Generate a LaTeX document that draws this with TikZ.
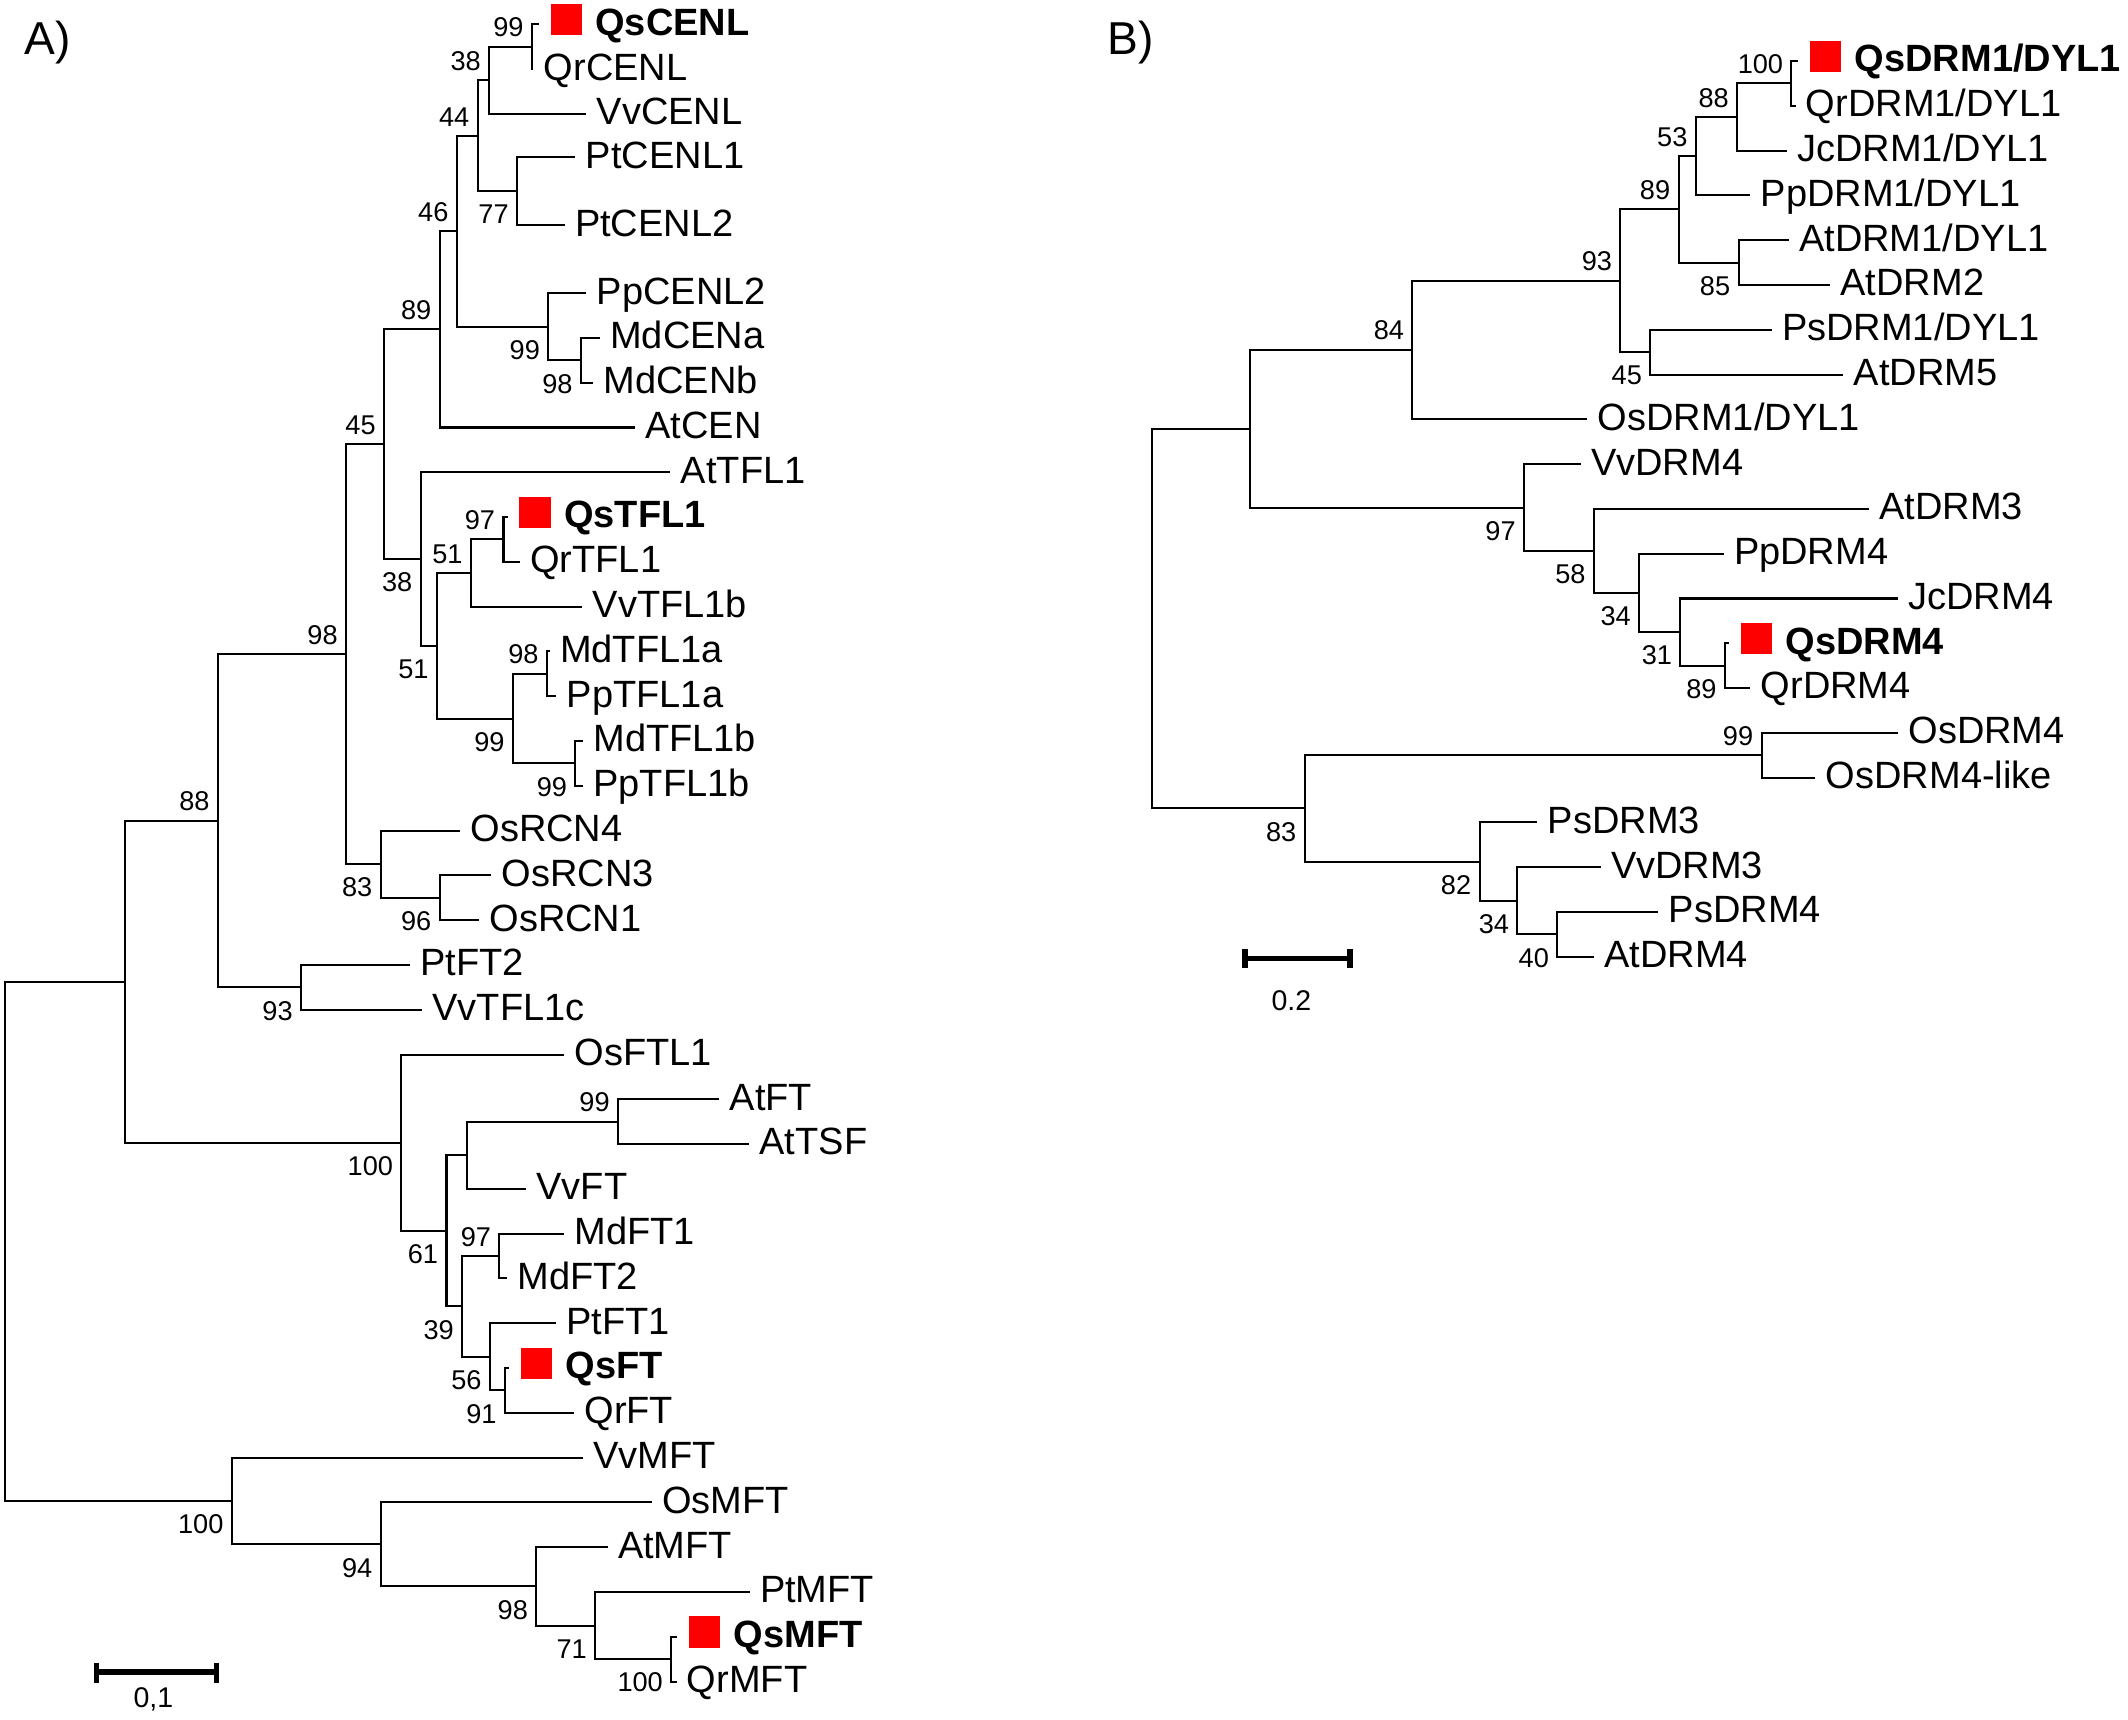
\documentclass[tikz,border=0pt]{standalone}
\usepackage{fontspec}
\setmainfont{Liberation Sans}
\usepackage{xcolor}
\usepackage{tikz}

\newcommand{\qsmark}{\hspace*{1pt}\textcolor{red}{\rule{23pt}{23pt}}\hspace{10pt}}

\tikzset{
  leaf/.style={anchor=west, inner xsep=7.5pt, inner ysep=0pt, text height=20pt, text depth=4pt,
    font=\fontsize{28}{30}\selectfont},
  qsleaf/.style={leaf, font=\fontsize{28}{30}\selectfont\bfseries},
  bsnum/.style={inner sep=0pt, font=\fontsize{20}{22}\selectfont},
  bsup/.style={bsnum, anchor=south east, xshift=-6pt, yshift=7pt},
  bsdown/.style={bsnum, anchor=north east, xshift=-6pt, yshift=-10pt},
  tree/.style={every edge/.style={draw, line width=1.5pt, to path={|- (\tikztotarget)}}},
  scalebar/.style={line width=4pt},
  panel/.style={anchor=base west, inner sep=0pt, font=\fontsize{34}{36}\selectfont}
}

\begin{document}
\begin{tikzpicture}[x=1pt,y=-1pt]
  \useasboundingbox (0,0) rectangle (1568,1267);

  % ---------- A) ----------
  \node[panel] (pa) at (18,40) {A)};

  \node[qsleaf] (qscenl) at (397,18) {\qsmark QsCENL};
  \node[leaf] (qrcenl) at (393,51) {QrCENL};
  \node[leaf] (vvcenl) at (432,84) {VvCENL};
  \node[leaf] (ptcenl1) at (424,116) {PtCENL1};
  \node[leaf] (ptcenl2) at (416,166) {PtCENL2};
  \node[leaf] (ppcenl2) at (432,216) {PpCENL2};
  \node[leaf] (mdcena) at (442,249) {MdCENa};
  \node[leaf] (mdcenb) at (437,282) {MdCENb};
  \node[leaf] (atcen) at (468,315) {AtCEN};
  \node[leaf] (attfl1) at (494,348) {AtTFL1};
  \node[qsleaf] (qstfl1) at (374,381) {\qsmark QsTFL1};
  \node[leaf] (qrtfl1) at (383,414) {QrTFL1};
  \node[leaf] (vvtfl1b) at (429,447) {VvTFL1b};
  \node[leaf] (mdtfl1a) at (405,480) {MdTFL1a};
  \node[leaf] (pptfl1a) at (410,513) {PpTFL1a};
  \node[leaf] (mdtfl1b) at (429.5,546) {MdTFL1b};
  \node[leaf] (pptfl1b) at (429.5,579) {PpTFL1b};
  \node[leaf] (osrcn4) at (339,612) {OsRCN4};
  \node[leaf] (osrcn3) at (362,645) {OsRCN3};
  \node[leaf] (osrcn1) at (353,678) {OsRCN1};
  \node[leaf] (ptft2) at (302,711) {PtFT2};
  \node[leaf] (vvtfl1c) at (311,744) {VvTFL1c};
  \node[leaf] (osftl1) at (415.6,777) {OsFTL1};
  \node[leaf] (atft) at (530,810) {AtFT};
  \node[leaf] (attsf) at (552,843) {AtTSF};
  \node[leaf] (vvft) at (387.6,876) {VvFT};
  \node[leaf] (mdft1) at (415.6,909) {MdFT1};
  \node[leaf] (mdft2) at (373.5,942) {MdFT2};
  \node[leaf] (ptft1) at (409.5,975) {PtFT1};
  \node[qsleaf] (qsft) at (375,1008) {\qsmark QsFT};
  \node[leaf] (qrft) at (423,1041) {QrFT};
  \node[leaf] (vvmft) at (429.4,1074) {VvMFT};
  \node[leaf] (osmft) at (480.4,1107) {OsMFT};
  \node[leaf] (atmft) at (447.7,1140) {AtMFT};
  \node[leaf] (ptmft) at (552.3,1173) {PtMFT};
  \node[qsleaf] (qsmft) at (499,1206) {\qsmark QsMFT};
  \node[leaf] (qrmft) at (498.5,1239) {QrMFT};

  \coordinate (a1) at (392,34.5);
  \coordinate (a2) at (360.5,59.25);
  \coordinate (a3) at (381,141);
  \coordinate (a4) at (352,100.1);
  \coordinate (a5) at (428,265.5);
  \coordinate (a6) at (404,240.75);
  \coordinate (a7) at (336.6,170.4);
  \coordinate (a8) at (324,242.7);
  \coordinate (a9) at (371,397.5);
  \coordinate (a10) at (347,422.25);
  \coordinate (a11) at (403,496.5);
  \coordinate (a12) at (424,562.5);
  \coordinate (a13) at (378,529.5);
  \coordinate (a14) at (322,475.9);
  \coordinate (a15) at (310,411.9);
  \coordinate (a16) at (283,327.3);
  \coordinate (a17) at (324,661.5);
  \coordinate (a18) at (280.5,636.75);
  \coordinate (a19) at (255,482);
  \coordinate (a20) at (221.8,727.5);
  \coordinate (a21) at (160.6,604.8);
  \coordinate (a22) at (455.4,826.5);
  \coordinate (a23) at (344,851.25);
  \coordinate (a24) at (368,925.5);
  \coordinate (a25) at (372,1024.5);
  \coordinate (a26) at (361,999.75);
  \coordinate (a27) at (340.6,962.6);
  \coordinate (a28) at (329,906.9);
  \coordinate (a29) at (295.8,842);
  \coordinate (a30) at (91.8,723.4);
  \coordinate (a31) at (494.6,1222.5);
  \coordinate (a32) at (438.6,1197.75);
  \coordinate (a33) at (395.2,1168.9);
  \coordinate (a34) at (280.5,1137.9);
  \coordinate (a35) at (170.8,1106);
  \coordinate (a36) at (4,914.7);

  \path[tree] (a1) edge (qscenl.west) edge (qrcenl.west);
  \path[tree] (a2) edge (a1) edge (vvcenl.west);
  \path[tree] (a3) edge (ptcenl1.west) edge (ptcenl2.west);
  \path[tree] (a4) edge (a2) edge (a3);
  \path[tree] (a5) edge (mdcena.west) edge (mdcenb.west);
  \path[tree] (a6) edge (ppcenl2.west) edge (a5);
  \path[tree] (a7) edge (a4) edge (a6);
  \path[tree] (a8) edge (a7) edge (atcen.west);
  \path[tree] (a9) edge (qstfl1.west) edge (qrtfl1.west);
  \path[tree] (a10) edge (a9) edge (vvtfl1b.west);
  \path[tree] (a11) edge (mdtfl1a.west) edge (pptfl1a.west);
  \path[tree] (a12) edge (mdtfl1b.west) edge (pptfl1b.west);
  \path[tree] (a13) edge (a11) edge (a12);
  \path[tree] (a14) edge (a10) edge (a13);
  \path[tree] (a15) edge (attfl1.west) edge (a14);
  \path[tree] (a16) edge (a8) edge (a15);
  \path[tree] (a17) edge (osrcn3.west) edge (osrcn1.west);
  \path[tree] (a18) edge (osrcn4.west) edge (a17);
  \path[tree] (a19) edge (a16) edge (a18);
  \path[tree] (a20) edge (ptft2.west) edge (vvtfl1c.west);
  \path[tree] (a21) edge (a19) edge (a20);
  \path[tree] (a22) edge (atft.west) edge (attsf.west);
  \path[tree] (a23) edge (a22) edge (vvft.west);
  \path[tree] (a24) edge (mdft1.west) edge (mdft2.west);
  \path[tree] (a25) edge (qsft.west) edge (qrft.west);
  \path[tree] (a26) edge (ptft1.west) edge (a25);
  \path[tree] (a27) edge (a24) edge (a26);
  \path[tree] (a28) edge (a23) edge (a27);
  \path[tree] (a29) edge (osftl1.west) edge (a28);
  \path[tree] (a30) edge (a21) edge (a29);
  \path[tree] (a31) edge (qsmft.west) edge (qrmft.west);
  \path[tree] (a32) edge (ptmft.west) edge (a31);
  \path[tree] (a33) edge (atmft.west) edge (a32);
  \path[tree] (a34) edge (osmft.west) edge (a33);
  \path[tree] (a35) edge (vvmft.west) edge (a34);
  \path[tree] (a36) edge (a30) edge (a35);

  % bootstrap values A
  \node[bsup] (a1v) at (a1) {99};
  \node[bsup] (a2v) at (a2) {38};
  \node[bsdown] (a3v) at (a3) {77};
  \node[bsup] (a4v) at (a4) {44};
  \node[bsdown] (a5v) at (a5) {98};
  \node[bsdown] (a6v) at (a6) {99};
  \node[bsup] (a7v) at (a7) {46};
  \node[bsup] (a8v) at (a8) {89};
  \node[bsup] (a9v) at (a9) {97};
  \node[bsup] (a10v) at (a10) {51};
  \node[bsup] (a11v) at (a11) {98};
  \node[bsdown] (a12v) at (a12) {99};
  \node[bsdown] (a13v) at (a13) {99};
  \node[bsdown] (a14v) at (a14) {51};
  \node[bsdown] (a15v) at (a15) {38};
  \node[bsup] (a16v) at (a16) {45};
  \node[bsdown] (a17v) at (a17) {96};
  \node[bsdown] (a18v) at (a18) {83};
  \node[bsup] (a19v) at (a19) {98};
  \node[bsdown] (a20v) at (a20) {93};
  \node[bsup] (a21v) at (a21) {88};
  \node[bsup] (a22v) at (a22) {99};
  \node[bsup] (a24v) at (a24) {97};
  \node[bsdown] (a25v) at (a25) {91};
  \node[bsdown] (a26v) at (a26) {56};
  \node[bsdown] (a27v) at (a27) {39};
  \node[bsdown] (a28v) at (a28) {61};
  \node[bsdown] (a29v) at (a29) {100};
  \node[bsdown] (a31v) at (a31) {100};
  \node[bsdown] (a32v) at (a32) {71};
  \node[bsdown] (a33v) at (a33) {98};
  \node[bsdown] (a34v) at (a34) {94};
  \node[bsdown] (a35v) at (a35) {100};

  % scale A
  \draw[scalebar] (71,1225) -- (71,1240) (71,1232) -- (159.5,1232) (159.5,1225) -- (159.5,1240);
  \node[bsnum, font=\fontsize{21}{23}\selectfont] (sca) at (113,1252.5) {0,1};

  % ---------- B) ----------
  \node[panel] (pb) at (816,40) {B)};

  \node[qsleaf] (qsdrm1) at (1325,45) {\qsmark QsDRM1/DYL1};
  \node[leaf] (qrdrm1) at (1323,78) {QrDRM1/DYL1};
  \node[leaf] (jcdrm1) at (1316.7,111) {JcDRM1/DYL1};
  \node[leaf] (ppdrm1) at (1289.7,144) {PpDRM1/DYL1};
  \node[leaf] (atdrm1) at (1318,177) {AtDRM1/DYL1};
  \node[leaf] (atdrm2) at (1348.5,210) {AtDRM2};
  \node[leaf] (psdrm1) at (1305.4,243) {PsDRM1/DYL1};
  \node[leaf] (atdrm5) at (1358.3,276) {AtDRM5};
  \node[leaf] (osdrm1) at (1169.6,309) {OsDRM1/DYL1};
  \node[leaf] (vvdrm4) at (1164.7,342) {VvDRM4};
  \node[leaf] (atdrm3) at (1377,375) {AtDRM3};
  \node[leaf] (ppdrm4) at (1270,408) {PpDRM4};
  \node[leaf] (jcdrm4) at (1398.5,441) {JcDRM4};
  \node[qsleaf] (qsdrm4) at (1274,474) {\qsmark QsDRM4};
  \node[leaf] (qrdrm4) at (1289.7,507) {QrDRM4};
  \node[leaf] (osdrm4) at (1398.5,540) {OsDRM4};
  \node[leaf] (osdrm4l) at (1337.7,573) {OsDRM4-like};
  \node[leaf] (psdrm3) at (1132.8,606) {PsDRM3};
  \node[leaf] (vvdrm3) at (1179.4,639) {VvDRM3};
  \node[leaf] (psdrm4) at (1222,672) {PsDRM4};
  \node[leaf] (atdrm4) at (1174.5,705) {AtDRM4};

  \coordinate (b1) at (1320,61.5);
  \coordinate (b2) at (1280,86.25);
  \coordinate (b3) at (1249.5,115.1);
  \coordinate (b4) at (1281,193.5);
  \coordinate (b5) at (1236.8,154.3);
  \coordinate (b6) at (1216,259.5);
  \coordinate (b7) at (1194,206.9);
  \coordinate (b8) at (1040.7,257.9);
  \coordinate (b9) at (1271,490.5);
  \coordinate (b10) at (1238.2,465.75);
  \coordinate (b11) at (1207.8,436.9);
  \coordinate (b12) at (1174.5,405.9);
  \coordinate (b13) at (1123,374);
  \coordinate (b14) at (921,316);
  \coordinate (b15) at (1298,556.5);
  \coordinate (b16) at (1147.5,688.5);
  \coordinate (b17) at (1118.1,663.75);
  \coordinate (b18) at (1090.2,634.9);
  \coordinate (b19) at (961.3,595.7);
  \coordinate (b20) at (848.5,455.9);

  \path[tree] (b1) edge (qsdrm1.west) edge (qrdrm1.west);
  \path[tree] (b2) edge (b1) edge (jcdrm1.west);
  \path[tree] (b3) edge (b2) edge (ppdrm1.west);
  \path[tree] (b4) edge (atdrm1.west) edge (atdrm2.west);
  \path[tree] (b5) edge (b3) edge (b4);
  \path[tree] (b6) edge (psdrm1.west) edge (atdrm5.west);
  \path[tree] (b7) edge (b5) edge (b6);
  \path[tree] (b8) edge (b7) edge (osdrm1.west);
  \path[tree] (b9) edge (qsdrm4.west) edge (qrdrm4.west);
  \path[tree] (b10) edge (jcdrm4.west) edge (b9);
  \path[tree] (b11) edge (ppdrm4.west) edge (b10);
  \path[tree] (b12) edge (atdrm3.west) edge (b11);
  \path[tree] (b13) edge (vvdrm4.west) edge (b12);
  \path[tree] (b14) edge (b8) edge (b13);
  \path[tree] (b15) edge (osdrm4.west) edge (osdrm4l.west);
  \path[tree] (b16) edge (psdrm4.west) edge (atdrm4.west);
  \path[tree] (b17) edge (vvdrm3.west) edge (b16);
  \path[tree] (b18) edge (psdrm3.west) edge (b17);
  \path[tree] (b19) edge (b15) edge (b18);
  \path[tree] (b20) edge (b14) edge (b19);

  % bootstrap values B
  \node[bsup] (b1v) at (b1) {100};
  \node[bsup] (b2v) at (b2) {88};
  \node[bsup] (b3v) at (b3) {53};
  \node[bsdown] (b4v) at (b4) {85};
  \node[bsup] (b5v) at (b5) {89};
  \node[bsdown] (b6v) at (b6) {45};
  \node[bsup] (b7v) at (b7) {93};
  \node[bsup] (b8v) at (b8) {84};
  \node[bsdown] (b9v) at (b9) {89};
  \node[bsdown] (b10v) at (b10) {31};
  \node[bsdown] (b11v) at (b11) {34};
  \node[bsdown] (b12v) at (b12) {58};
  \node[bsdown] (b13v) at (b13) {97};
  \node[bsup] (b15v) at (b15) {99};
  \node[bsdown] (b16v) at (b16) {40};
  \node[bsdown] (b17v) at (b17) {34};
  \node[bsdown] (b18v) at (b18) {82};
  \node[bsdown] (b19v) at (b19) {83};

  % scale B
  \draw[scalebar] (917.2,699.4) -- (917.2,713.4) (917.2,706.4) -- (994.6,706.4) (994.6,699.4) -- (994.6,713.4);
  \node[bsnum, font=\fontsize{21}{23}\selectfont] (scb) at (951.5,737.5) {0.2};
\end{tikzpicture}
\end{document}
